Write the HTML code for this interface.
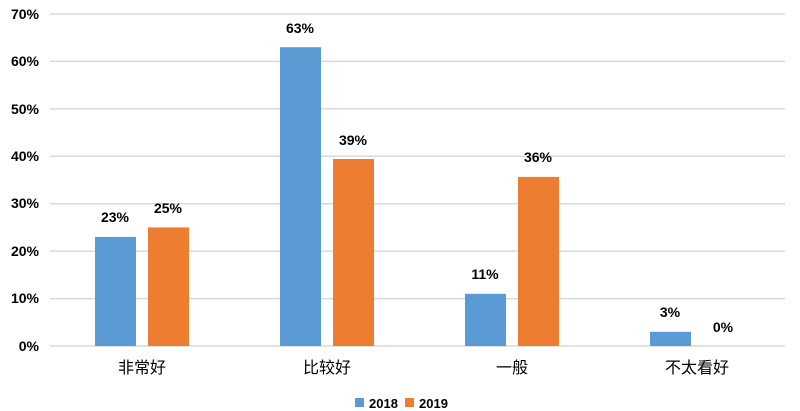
<!DOCTYPE html><html><head><meta charset="utf-8"><style>body{margin:0;background:#fff}svg{display:block}text{font-family:"Liberation Sans","Noto Sans CJK SC",sans-serif}</style></head><body>
<svg width="800" height="411" xmlns="http://www.w3.org/2000/svg">
<g stroke="#d9d9d9" stroke-width="1.5">
<line x1="50" x2="785" y1="14" y2="14"/><line x1="50" x2="785" y1="61.4" y2="61.4"/><line x1="50" x2="785" y1="108.9" y2="108.9"/><line x1="50" x2="785" y1="156.3" y2="156.3"/><line x1="50" x2="785" y1="203.7" y2="203.7"/><line x1="50" x2="785" y1="251.1" y2="251.1"/><line x1="50" x2="785" y1="298.6" y2="298.6"/><line x1="50" x2="785" y1="346" y2="346"/>
</g>
<g font-size="14" font-weight="bold" fill="#000" text-anchor="end">
<text x="39" y="19">70%</text><text x="39" y="66">60%</text><text x="39" y="114">50%</text><text x="39" y="161">40%</text><text x="39" y="208">30%</text><text x="39" y="256">20%</text><text x="39" y="303">10%</text><text x="39" y="351">0%</text>
</g>
<g fill="#5b9bd5">
<rect x="95" y="236.9" width="41" height="109.1"/><rect x="280" y="47.2" width="41" height="298.8"/><rect x="465" y="293.8" width="41" height="52.2"/><rect x="650" y="331.8" width="41" height="14.2"/>
</g>
<g fill="#ed7d31">
<rect x="148" y="227.4" width="41" height="118.6"/><rect x="333" y="159" width="41" height="187"/><rect x="518" y="176.9" width="41" height="169.1"/>
</g>
<g font-size="14" font-weight="bold" fill="#000" text-anchor="middle">
<text x="115" y="222">23%</text><text x="168" y="213">25%</text><text x="300" y="33">63%</text><text x="353" y="145">39%</text><text x="485" y="279">11%</text><text x="538" y="162">36%</text><text x="670" y="317">3%</text><text x="723" y="332">0%</text>
</g>
<g font-size="16" fill="#000" text-anchor="middle">
<text x="142" y="373">非常好</text><text x="327" y="373">比较好</text><text x="512" y="373">一般</text><text x="697" y="373">不太看好</text>
</g>
<rect x="355" y="398" width="9" height="9" fill="#5b9bd5"/><text x="369" y="408" font-size="13" font-weight="bold">2018</text>
<rect x="405" y="398" width="9" height="9" fill="#ed7d31"/><text x="419" y="408" font-size="13" font-weight="bold">2019</text>
</svg></body></html>
